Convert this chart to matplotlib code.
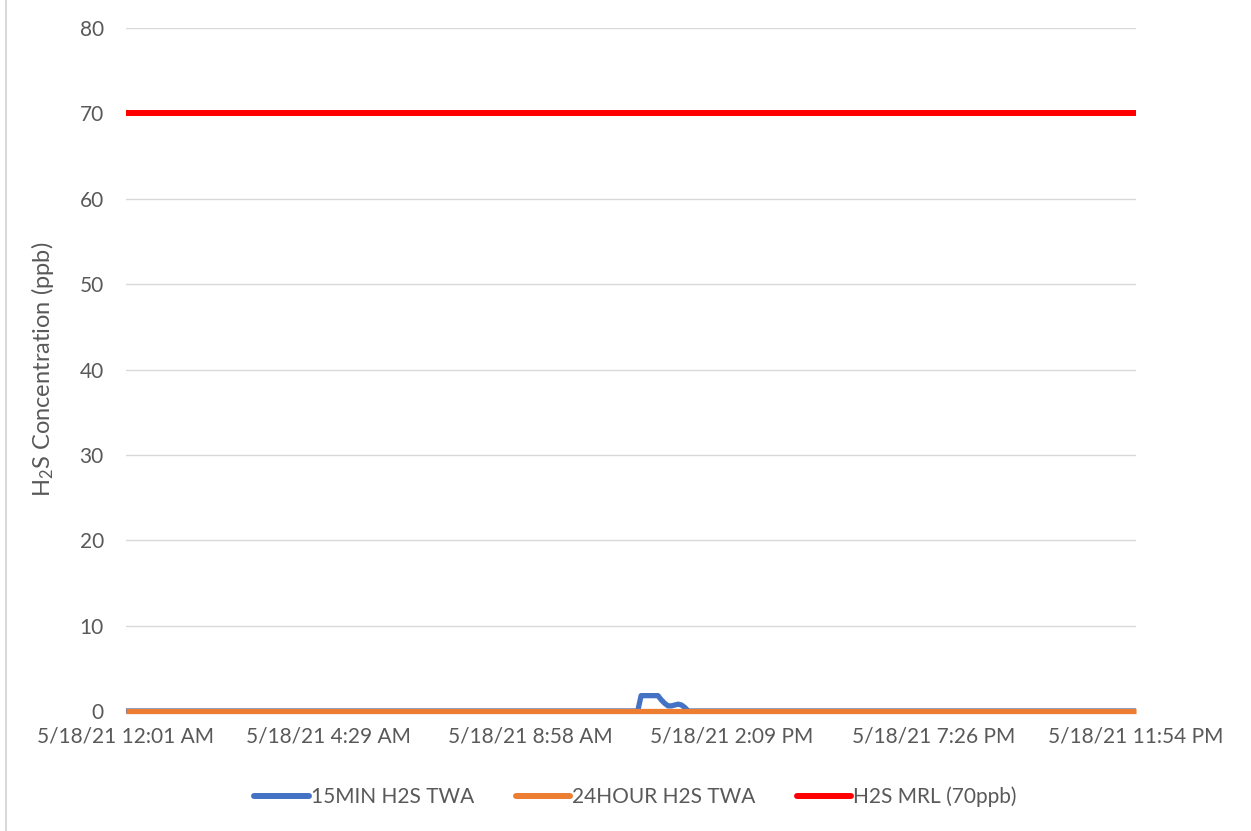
import matplotlib
matplotlib.use("Agg")
import matplotlib.pyplot as plt
from matplotlib.lines import Line2D

plt.rcParams["font.family"] = ["Lato", "DejaVu Sans"]
plt.rcParams["mathtext.fontset"] = "custom"
plt.rcParams["mathtext.rm"] = "Lato"
plt.rcParams["mathtext.it"] = "Lato:italic"

# category axis: 301 readings, label every 60th
n_points = 301
tick_every = 60
tick_labels = ["5/18/21 12:01 AM", "5/18/21 4:29 AM", "5/18/21 8:58 AM",
               "5/18/21 2:09 PM", "5/18/21 7:26 PM", "5/18/21 11:54 PM"]

# 15 minute TWA: zero except a short event in the early afternoon
spike_start = 153
spike_values = [1.8, 1.8, 1.8, 1.8, 1.8, 1.8, 1.3, 0.9, 0.6, 0.6, 0.7, 0.8, 0.7, 0.4]
twa_15min = [0.0] * spike_start + spike_values + [0.0] * (n_points - spike_start - len(spike_values))
twa_24hour = [0.0] * n_points
mrl = [70.0] * n_points

x = list(range(n_points))

fig = plt.figure(figsize=(12.51, 8.31), dpi=100)
ax = fig.add_axes([0.1007, 0.1444, 0.8074, 0.8219])

ax.plot(x, twa_15min, color="#4472C4", lw=3.8, label="15MIN H2S TWA",
        solid_joinstyle="round", solid_capstyle="butt", clip_on=False)
ax.plot(x, twa_24hour, color="#ED7D31", lw=3.8, label="24HOUR H2S TWA",
        solid_capstyle="butt", clip_on=False)
ax.plot(x, mrl, color="#FF0000", lw=4.3, label="H2S MRL (70ppb)",
        solid_capstyle="butt", clip_on=False)

ax.set_xlim(0, n_points - 1)
ax.set_ylim(0, 80)
ax.set_yticks(range(0, 81, 10))
ax.set_xticks(range(0, n_points, tick_every))
ax.set_xticklabels(tick_labels)
ax.grid(axis="y", color="#d9d9d9", lw=1)
ax.set_axisbelow(True)
for s in ax.spines.values():
    s.set_visible(False)
ax.tick_params(axis="both", length=0, labelsize=15, labelcolor="#595959")
ax.tick_params(axis="x", pad=11)
ax.tick_params(axis="y", pad=16)
ax.set_ylabel("H$_2$S Concentration (ppb)", fontsize=17, color="#595959", labelpad=17)

leg = fig.legend(loc="center", bbox_to_anchor=(0.508, 0.041), ncol=3, frameon=False,
                 fontsize=15, labelcolor="#595959", handlelength=2.6, handletextpad=0.1,
                 columnspacing=2.0)
for h in leg.get_lines():
    h.set_linewidth(4.3)
    h.set_solid_capstyle("round")

fig.add_artist(Line2D([0.0045, 0.0045], [0.0, 1.0], color="#d9d9d9", lw=1.5))

fig.savefig("out.png", dpi=100)
